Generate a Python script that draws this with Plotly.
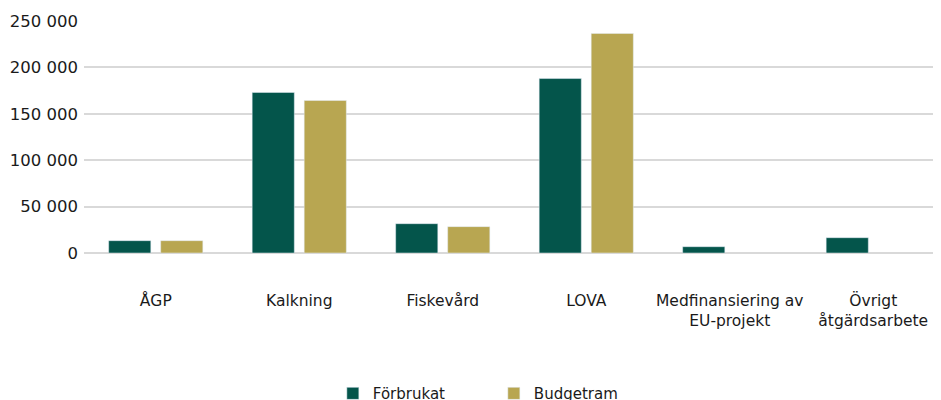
import plotly.graph_objects as go

categories = ["ÅGP", "Kalkning", "Fiskevård", "LOVA", "Medfinansiering av<br>EU-projekt", "Övrigt<br>åtgärdsarbete"]
forbrukat = [13300, 173000, 31600, 188000, 6800, 16500]
budgetram = [13300, 164300, 28400, 236600, None, None]
tick_vals = [0, 50000, 100000, 150000, 200000, 250000]
tick_text = ["0", "50 000", "100 000", "150 000", "200 000", "250 000"]

GREEN = "#04554b"
GOLD = "#b8a651"
FONT = "DejaVu Sans"

fig = go.Figure()
fig.add_trace(go.Bar(name="Förbrukat", x=categories, y=forbrukat, marker_color=GREEN))
fig.add_trace(go.Bar(name="Budgetram", x=categories, y=budgetram, marker_color=GOLD))

fig.update_layout(
    width=941, height=400,
    margin=dict(l=76, r=4, t=13, b=155, autoexpand=False),
    paper_bgcolor="white", plot_bgcolor="white",
    barmode="group", bargap=0.275, bargroupgap=0.19,
    font=dict(family=FONT, size=15, color="#1a1a1a"),
    showlegend=True,
    legend=dict(orientation="h", x=0.476, xanchor="center", y=-0.535, yanchor="top",
                font=dict(size=15), entrywidth=116, entrywidthmode="pixels"),
)
fig.update_xaxes(showgrid=False, showline=False, ticks="", ticklabelstandoff=36,
                 tickfont=dict(size=15.5), range=[-0.5, 5.5], automargin=False)
fig.update_yaxes(range=[0, 250000], tickvals=tick_vals, ticktext=tick_text,
                 showgrid=True, gridcolor="#d9d9d9", gridwidth=1.5,
                 zeroline=True, zerolinecolor="#d9d9d9", zerolinewidth=1.5,
                 showline=False, ticks="", ticklabelstandoff=5, tickfont=dict(size=16.5),
                 automargin=False)

fig.write_html("out.html")
